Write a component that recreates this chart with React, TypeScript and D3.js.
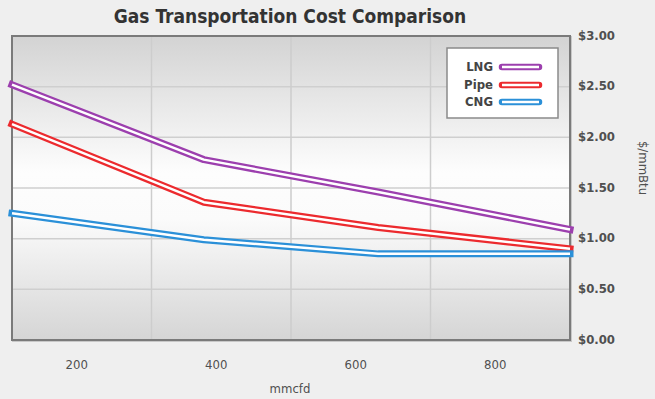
import React from "react";
import { scaleLinear, line, curveLinear } from "d3";

const title = "Gas Transportation Cost Comparison";
const xLabel = "mmcfd";
const yLabel = "$/mmBtu";

const volumes = [100, 375, 625, 900];
const lng = [2.52, 1.78, 1.46, 1.09];
const pipe = [2.13, 1.36, 1.11, 0.9];
const cng = [1.25, 0.99, 0.85, 0.85];

const xTicks = [200, 400, 600, 800];
const xGrid = [300, 500, 700];
const yTicks = [0, 0.5, 1, 1.5, 2, 2.5, 3];

const seriesNames = ["LNG", "Pipe", "CNG"];
const seriesColors = ["#9c3fae", "#ec2a2e", "#2b90d8"];
const seriesValues = [lng, pipe, cng];

const width = 655;
const height = 399;
const plot = { left: 12, right: 570, top: 36, bottom: 340 };
const font = "'Liberation Sans Narrow', 'DejaVu Sans Condensed', Arial, sans-serif";

export default function App() {
  const xScale = scaleLinear().domain([100, 900]).range([plot.left, plot.right]);
  const yScale = scaleLinear().domain([0, 3]).range([plot.bottom, plot.top]);

  const lineGen = line<number>()
    .x((d, i) => xScale(volumes[i]))
    .y((d) => yScale(d))
    .curve(curveLinear);

  const legendX = 447;
  const legendY = 48;
  const legendRows = [67, 85, 102];

  return (
    <svg
      width={width}
      height={height}
      style={{ position: "absolute", left: 0, top: 0, background: "#efefef" }}
    >
      <defs>
        <linearGradient id="bg" x1="0" y1="0" x2="0" y2="1">
          <stop offset="0%" stopColor="#d3d3d3" />
          <stop offset="45%" stopColor="#fdfdfd" />
          <stop offset="60%" stopColor="#fbfbfb" />
          <stop offset="100%" stopColor="#d5d5d5" />
        </linearGradient>
      </defs>

      <rect x={0} y={0} width={width} height={height} fill="#efefef" />

      <text
        x={290}
        y={23}
        textAnchor="middle"
        fontFamily={font}
        fontWeight="bold"
        fontSize={19}
        fill="#333"
      >
        {title}
      </text>

      {/* plot frame */}
      <rect
        x={plot.left + 1}
        y={plot.top + 1}
        width={plot.right - plot.left}
        height={plot.bottom - plot.top}
        fill="none"
        stroke="#c8c8c8"
        strokeWidth={2}
      />
      <rect
        x={plot.left}
        y={plot.top}
        width={plot.right - plot.left}
        height={plot.bottom - plot.top}
        fill="url(#bg)"
      />

      {/* grid */}
      {yTicks.slice(1, -1).map((t) => (
        <line
          key={"h" + t}
          x1={plot.left}
          x2={plot.right}
          y1={yScale(t)}
          y2={yScale(t)}
          stroke="#cfcfcf"
          strokeWidth={1.5}
        />
      ))}
      {xGrid.map((t) => (
        <line
          key={"v" + t}
          x1={xScale(t)}
          x2={xScale(t)}
          y1={plot.top}
          y2={plot.bottom}
          stroke="#cdcdcd"
          strokeWidth={1.5}
        />
      ))}

      <rect
        x={plot.left}
        y={plot.top}
        width={plot.right - plot.left}
        height={plot.bottom - plot.top}
        fill="none"
        stroke="#7a7a7a"
        strokeWidth={2}
      />

      {/* series */}
      <g>
        {seriesValues.map((vals, i) => (
          <g key={seriesNames[i]}>
            <path
              d={lineGen(vals) || ""}
              fill="none"
              stroke={seriesColors[i]}
              strokeWidth={7}
              strokeLinejoin="round"
              strokeLinecap="square"
            />
            <path
              d={lineGen(vals) || ""}
              fill="none"
              stroke="#ffffff"
              strokeWidth={2.5}
              strokeLinejoin="round"
              strokeLinecap="butt"
            />
          </g>
        ))}
      </g>

      {/* legend */}
      <rect
        x={legendX}
        y={legendY}
        width={111}
        height={70}
        fill="#ffffff"
        stroke="#8a8a8a"
        strokeWidth={1.5}
      />
      {seriesNames.map((name, i) => (
        <g key={"lg" + name}>
          <text
            x={493}
            y={legendRows[i]}
            textAnchor="end"
            dominantBaseline="middle"
            fontFamily={font}
            fontWeight="bold"
            fontSize={13}
            fill="#444"
          >
            {name}
          </text>
          <line
            x1={502}
            x2={539}
            y1={legendRows[i]}
            y2={legendRows[i]}
            stroke={seriesColors[i]}
            strokeWidth={6.5}
            strokeLinecap="round"
          />
          <line
            x1={502}
            x2={539}
            y1={legendRows[i]}
            y2={legendRows[i]}
            stroke="#ffffff"
            strokeWidth={2.5}
          />
        </g>
      ))}

      {/* y axis labels */}
      {yTicks.map((t) => (
        <text
          key={"yl" + t}
          x={578}
          y={yScale(t)}
          dominantBaseline="middle"
          fontFamily={font}
          fontWeight="bold"
          fontSize={13}
          fill="#505050"
        >
          {"$" + t.toFixed(2)}
        </text>
      ))}
      <text
        transform={`translate(642,168) rotate(90)`}
        textAnchor="middle"
        dominantBaseline="middle"
        fontFamily={font}
        fontSize={13}
        fill="#505050"
      >
        {yLabel}
      </text>

      {/* x axis labels */}
      {xTicks.map((t) => (
        <text
          key={"xl" + t}
          x={xScale(t) - 5}
          y={365}
          textAnchor="middle"
          dominantBaseline="middle"
          fontFamily={font}
          fontSize={13}
          fill="#505050"
        >
          {t}
        </text>
      ))}
      <text
        x={290}
        y={389}
        textAnchor="middle"
        dominantBaseline="middle"
        fontFamily={font}
        fontSize={13}
        fill="#505050"
      >
        {xLabel}
      </text>
    </svg>
  );
}
